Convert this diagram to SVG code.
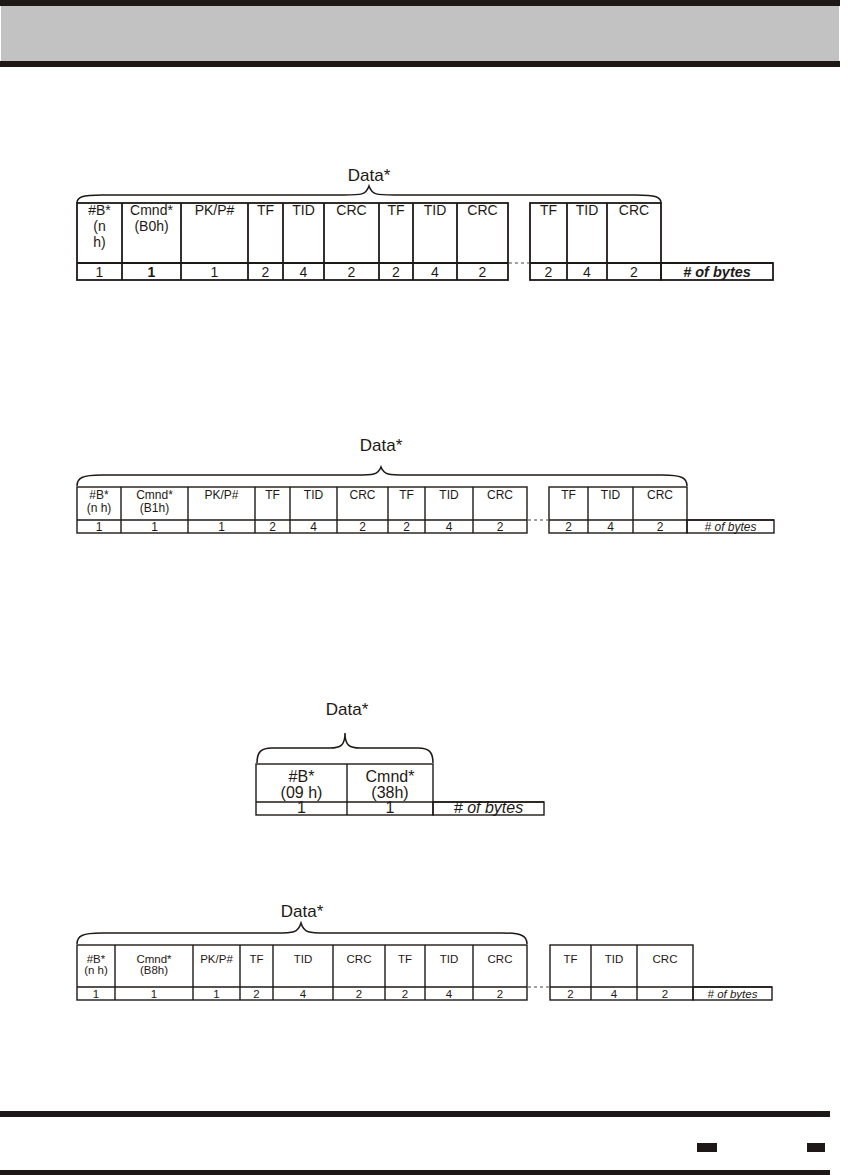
<svg xmlns="http://www.w3.org/2000/svg" width="849" height="1175" viewBox="0 0 849 1175">
<style>
.bar{fill:#1e1916}
.cell{fill:none;stroke:#1e1916}
.t1{stroke-width:1.8}
.t2{stroke-width:1.4}
.brace{fill:none;stroke:#1e1916;stroke-width:1.5}
.dash{stroke:#444;stroke-width:1;stroke-dasharray:3 3}
text{font-family:"Liberation Sans",Arial,sans-serif;text-anchor:middle;fill:#1e1916}
.f1{font-size:14px}
.f2{font-size:12px;fill:#333}
.f3{font-size:16px}
.f4{font-size:11.5px;fill:#333}
.it{font-style:italic}
.data{font-size:17px}
</style>
<g id="header">
<rect class="bar" x="0" y="0" width="840" height="6"/>
<rect x="1" y="6" width="838" height="55" fill="#c2c2c2"/>
<rect class="bar" x="0" y="61" width="840" height="6"/>
</g>
<g id="footer">
<rect class="bar" x="0" y="1111" width="830" height="6"/>
<rect class="bar" x="0" y="1170" width="830" height="5"/>
<rect class="bar" x="697" y="1143" width="20" height="9"/>
<rect class="bar" x="807" y="1143" width="18" height="9"/>
</g>

<g id="frame1">
<text class="data" x="369" y="181">Data*</text>
<path class="brace" d="M77 203 C77 197,82 195,102 195 L344 195 C361 195,366 195,369 186 C372 195,377 195,394 195 L636 195 C656 195,661 197,661 203"/>
<g class="cell t1">
<rect x="77" y="203" width="431" height="77"/>
<line x1="77" y1="263" x2="508" y2="263"/>
<line x1="122" y1="203" x2="122" y2="280"/><line x1="181" y1="203" x2="181" y2="280"/><line x1="248" y1="203" x2="248" y2="280"/><line x1="283" y1="203" x2="283" y2="280"/><line x1="324" y1="203" x2="324" y2="280"/><line x1="379" y1="203" x2="379" y2="280"/><line x1="413" y1="203" x2="413" y2="280"/><line x1="457" y1="203" x2="457" y2="280"/>
<rect x="530" y="203" width="131" height="77"/>
<line x1="530" y1="263" x2="773" y2="263"/>
<line x1="567" y1="203" x2="567" y2="280"/><line x1="607" y1="203" x2="607" y2="280"/>
<rect x="661" y="263" width="112" height="17"/>
</g>
<line class="dash" x1="509" y1="263" x2="529" y2="263"/>
<g class="f1">
<text x="99.5" y="215">#B*</text><text x="99.5" y="231">(n</text><text x="99.5" y="247">h)</text>
<text x="151.5" y="215">Cmnd*</text><text x="151.5" y="231">(B0h)</text>
<text x="214.5" y="215">PK/P#</text><text x="265.5" y="215">TF</text><text x="303.5" y="215">TID</text><text x="351.5" y="215">CRC</text>
<text x="396" y="215">TF</text><text x="435" y="215">TID</text><text x="482.5" y="215">CRC</text>
<text x="548.5" y="215">TF</text><text x="587" y="215">TID</text><text x="634" y="215">CRC</text>
<text x="99.5" y="277">1</text><text x="151.5" y="277" font-weight="bold">1</text><text x="214.5" y="277">1</text><text x="265.5" y="277">2</text><text x="303.5" y="277">4</text><text x="351.5" y="277">2</text><text x="396" y="277">2</text><text x="435" y="277">4</text><text x="482.5" y="277">2</text>
<text x="548.5" y="277">2</text><text x="587" y="277">4</text><text x="634" y="277">2</text>
<text class="it" x="717" y="277" font-weight="bold" font-size="14.5">#  of bytes</text>
</g>
</g>

<g id="frame2">
<text class="data" x="381" y="451">Data*</text>
<path class="brace" d="M77 486 C77 478,82 475,102 475 L356 475 C373 475,378 475,381 467 C384 475,389 475,406 475 L662 475 C682 475,687 478,687 486"/>
<g class="cell t2">
<rect x="77" y="487" width="450" height="46"/>
<line x1="77" y1="520" x2="527" y2="520"/>
<line x1="121" y1="487" x2="121" y2="533"/><line x1="188" y1="487" x2="188" y2="533"/><line x1="255" y1="487" x2="255" y2="533"/><line x1="290" y1="487" x2="290" y2="533"/><line x1="337" y1="487" x2="337" y2="533"/><line x1="388" y1="487" x2="388" y2="533"/><line x1="425" y1="487" x2="425" y2="533"/><line x1="473" y1="487" x2="473" y2="533"/>
<rect x="549" y="487" width="138" height="46"/>
<line x1="549" y1="520" x2="774" y2="520"/>
<line x1="588" y1="487" x2="588" y2="533"/><line x1="633" y1="487" x2="633" y2="533"/>
<rect x="687" y="520" width="87" height="13"/>
</g>
<line class="dash" x1="528" y1="520" x2="548" y2="520"/>
<g class="f2">
<text x="99" y="499">#B*</text><text x="99" y="512">(n h)</text>
<text x="154.5" y="499">Cmnd*</text><text x="154.5" y="512">(B1h)</text>
<text x="221.5" y="499">PK/P#</text><text x="272.5" y="499">TF</text><text x="313.5" y="499">TID</text><text x="362.5" y="499">CRC</text>
<text x="406.5" y="499">TF</text><text x="449" y="499">TID</text><text x="500" y="499">CRC</text>
<text x="568.5" y="499">TF</text><text x="610.5" y="499">TID</text><text x="660" y="499">CRC</text>
<text x="99" y="531">1</text><text x="154.5" y="531">1</text><text x="221.5" y="531">1</text><text x="272.5" y="531">2</text><text x="313.5" y="531">4</text><text x="362.5" y="531">2</text><text x="406.5" y="531">2</text><text x="449" y="531">4</text><text x="500" y="531">2</text>
<text x="568.5" y="531">2</text><text x="610.5" y="531">4</text><text x="660" y="531">2</text>
<text class="it" x="730.5" y="531"># of bytes</text>
</g>
</g>

<g id="frame3">
<text class="data" x="347" y="715">Data*</text>
<path class="brace" d="M257 763 C257 752,261 748,272 748 L330 748 C340 748,345 746,345 733 C345 746,350 748,360 748 L418 748 C429 748,433 752,433 763"/>
<g class="cell t2">
<rect x="256" y="764" width="177" height="51"/>
<line x1="256" y1="802" x2="544" y2="802"/>
<line x1="347" y1="764" x2="347" y2="815"/>
<rect x="433" y="802" width="111" height="13"/>
</g>
<g class="f3">
<text x="301.5" y="782">#B*</text><text x="301.5" y="798">(09 h)</text>
<text x="390" y="782">Cmnd*</text><text x="390" y="798">(38h)</text>
<text x="301.5" y="813">1</text><text x="390" y="813">1</text>
<text class="it" x="488.5" y="813"># of bytes</text>
</g>
</g>

<g id="frame4">
<text class="data" x="302" y="917" font-size="18">Data*</text>
<path class="brace" d="M77 944 C77 936,82 933,102 933 L276 933 C293 933,298 933,301 923 C304 933,309 933,326 933 L502 933 C522 933,527 936,527 944"/>
<g class="cell t2">
<rect x="77" y="945" width="450" height="55"/>
<line x1="77" y1="987" x2="527" y2="987"/>
<line x1="115" y1="945" x2="115" y2="1000"/><line x1="193" y1="945" x2="193" y2="1000"/><line x1="240" y1="945" x2="240" y2="1000"/><line x1="273" y1="945" x2="273" y2="1000"/><line x1="333" y1="945" x2="333" y2="1000"/><line x1="385" y1="945" x2="385" y2="1000"/><line x1="425" y1="945" x2="425" y2="1000"/><line x1="473" y1="945" x2="473" y2="1000"/>
<rect x="550" y="945" width="143" height="55"/>
<line x1="550" y1="987" x2="772" y2="987"/>
<line x1="591" y1="945" x2="591" y2="1000"/><line x1="637" y1="945" x2="637" y2="1000"/>
<rect x="693" y="987" width="79" height="13"/>
</g>
<line class="dash" x1="528" y1="987" x2="549" y2="987"/>
<g class="f4">
<text x="96" y="963">#B*</text><text x="96" y="974">(n h)</text>
<text x="154" y="963">Cmnd*</text><text x="154" y="974">(B8h)</text>
<text x="216.5" y="963">PK/P#</text><text x="256.5" y="963">TF</text><text x="303" y="963">TID</text><text x="359" y="963">CRC</text>
<text x="405" y="963">TF</text><text x="449" y="963">TID</text><text x="500" y="963">CRC</text>
<text x="570.5" y="963">TF</text><text x="614" y="963">TID</text><text x="665" y="963">CRC</text>
<text x="96" y="998">1</text><text x="154" y="998">1</text><text x="216.5" y="998">1</text><text x="256.5" y="998">2</text><text x="303" y="998">4</text><text x="359" y="998">2</text><text x="405" y="998">2</text><text x="449" y="998">4</text><text x="500" y="998">2</text>
<text x="570.5" y="998">2</text><text x="614" y="998">4</text><text x="665" y="998">2</text>
<text class="it" x="732.5" y="998"># of bytes</text>
</g>
</g>
</svg>
